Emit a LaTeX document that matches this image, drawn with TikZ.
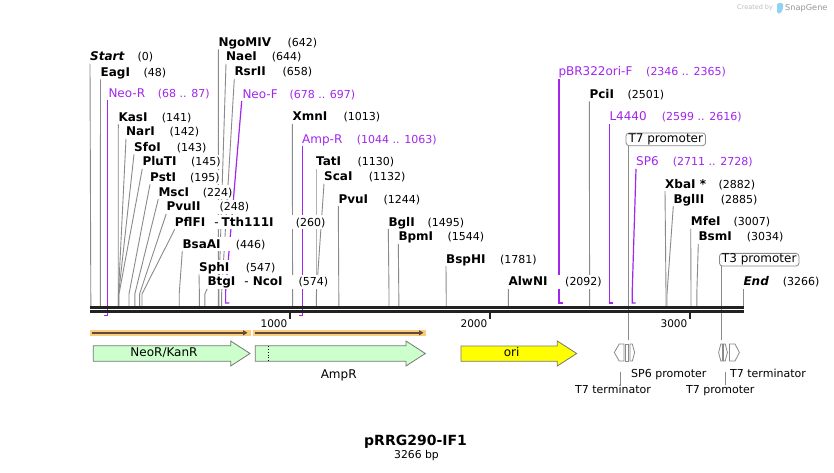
\documentclass[tikz,border=0pt]{standalone}
\usepackage{fontspec}
\setmainfont{DejaVu Sans}
\usetikzlibrary{arrows.meta}
\definecolor{sitegray}{HTML}{8A8A8A}
\definecolor{primpurple}{HTML}{A126EE}
\definecolor{bbone}{HTML}{222222}
\definecolor{featgreen}{HTML}{CCFFCC}
\definecolor{featline}{HTML}{777777}
\definecolor{orifill}{HTML}{FFFF00}
\definecolor{orglow}{HTML}{FBCB7E}
\definecolor{orcore}{HTML}{5E4B35}
\definecolor{logogray}{HTML}{BDBDBD}
\definecolor{logoblue}{HTML}{8ED3F5}
\pgfdeclarelayer{bgfill}
\pgfdeclarelayer{lines}
\pgfdeclarelayer{whites}
\pgfsetlayers{bgfill,lines,whites,main}
\newcommand\enzfont{\fontsize{12}{14}\selectfont\bfseries}
\newcommand\numfont{\fontsize{11}{13}\selectfont}
\newcommand\primfont{\fontsize{12}{14}\selectfont}
\newcommand\featfont{\fontsize{11}{13}\selectfont}
\tikzset{
  lab/.style={anchor=west, inner xsep=0pt, inner ysep=0.8pt, text height=10pt, text depth=2pt},
  siteln/.style={sitegray, line width=0.9pt},
  primln/.style={primpurple, line width=1.2pt},
  featarrow/.style={draw=featline, line width=0.8pt, fill=featgreen},
  smallft/.style={draw=sitegray, line width=0.8pt, fill=white},
  featlab/.style={font=\featfont, inner sep=0pt, text height=9pt, text depth=2.5pt},
  boxlab/.style={draw=sitegray, rounded corners=3pt, line width=0.8pt, fill=white, font=\fontsize{12}{14}\selectfont, inner xsep=2.5pt, inner ysep=0.6pt, text height=9pt, text depth=2.5pt},
  glowbar/.style={orglow, line width=6pt},
  corebar/.style={orcore, line width=1.6pt, -{Triangle[length=4.5pt,width=5pt]}},
}
\newcommand\enzsite[8]{%
  \node[lab,font=\enzfont#8] (#1) at (#2,#3) {#4};
  \node[lab,font=\numfont] (#1n) at (#5,#3) {#6};
  \coordinate (#1s) at (#7,306);
  \begin{pgfonlayer}{whites}\fill[white] (#1.south west) rectangle (#1n.north east);\end{pgfonlayer}
  \begin{pgfonlayer}{lines}\draw[siteln] (#1.south west) -- ([yshift=12pt]#1s) -- (#1s);\end{pgfonlayer}
}
\newcommand\primlab[6]{%
  \node[lab,font=\primfont,text=primpurple] (#1) at (#2,#3) {#4};
  \node[lab,font=\numfont,text=primpurple] (#1n) at (#5,#3) {#6};
  \begin{pgfonlayer}{whites}\fill[white] (#1.south west) rectangle (#1n.north east);\end{pgfonlayer}
}
\begin{document}
\begin{tikzpicture}[x=1pt,y=-1pt]
\begin{pgfonlayer}{bgfill}
\fill[white] (0,0) rectangle (834,472);
\end{pgfonlayer}
\useasboundingbox (0,0) rectangle (834,472);

% ---- logo
\node[anchor=west, inner sep=0pt, text=logogray, font=\fontsize{6.5}{8}\selectfont] (cre) at (737,8) {Created by};
\fill[logoblue, rounded corners=1.5pt] (777,3) -- (783,3) -- (783,9) -- (780.5,13.5) -- (777,13.5) -- cycle;
\node[anchor=west, inner sep=0pt, text=logogray!80!black, font=\fontsize{8.2}{10}\selectfont] (sg) at (785,8) {SnapGene};

% ---- restriction sites
\enzsite{Start}{90}{56.7}{Start}{137.3}{(0)}{90.8}{\itshape}
\enzsite{EagI}{100.5}{72.3}{EagI}{143.3}{(48)}{100.3}{}
\enzsite{KasI}{118.3}{117.3}{KasI}{161.7}{(141)}{118.2}{}
\enzsite{NarI}{126}{131.7}{NarI}{169.3}{(142)}{118.4}{}
\enzsite{SfoI}{134}{147.3}{SfoI}{176.7}{(143)}{118.6}{}
\enzsite{PluTI}{142.3}{161.7}{PluTI}{191}{(145)}{119}{}
\enzsite{PstI}{150}{177.3}{PstI}{190}{(195)}{129}{}
\enzsite{MscI}{158.3}{192}{MscI}{202.7}{(224)}{134.8}{}
\enzsite{PvuII}{166.3}{206.7}{PvuII}{219.3}{(248)}{139.6}{}
\enzsite{PflFI}{174.7}{222.3}{PflFI\hspace{9pt}{\mdseries -}\hspace{3pt}Tth111I}{295.7}{(260)}{142}{}
\enzsite{BsaAI}{182.3}{244}{BsaAI}{235.7}{(446)}{179.2}{}
\enzsite{SphI}{199}{267.3}{SphI}{245.7}{(547)}{199.4}{}
\enzsite{BtgI}{207.3}{281.7}{BtgI\hspace{9pt}{\mdseries -}\hspace{4pt}NcoI}{298.3}{(574)}{204.8}{}
\enzsite{NgoMIV}{218.3}{42.3}{NgoMIV}{287.3}{(642)}{218.4}{}
\enzsite{NaeI}{226}{56.7}{NaeI}{271.7}{(644)}{218.8}{}
\enzsite{RsrII}{234.3}{71.7}{RsrII}{282.3}{(658)}{221.6}{}
\enzsite{XmnI}{292.3}{116.7}{XmnI}{343.3}{(1013)}{292.6}{}
\enzsite{TatI}{316}{161.7}{TatI}{357.3}{(1130)}{316}{}
\enzsite{ScaI}{324}{176.7}{ScaI}{368.7}{(1132)}{316.4}{}
\enzsite{PvuI}{338.3}{199}{PvuI}{383.3}{(1244)}{338.8}{}
\enzsite{BglI}{388.3}{222}{BglI}{427.3}{(1495)}{389}{}
\enzsite{BpmI}{398.3}{236.7}{BpmI}{447.3}{(1544)}{398.8}{}
\enzsite{BspHI}{446}{259}{BspHI}{500}{(1781)}{446.2}{}
\enzsite{AlwNI}{508.3}{281.7}{AlwNI}{565}{(2092)}{508.4}{}
\enzsite{PciI}{589.3}{94.3}{PciI}{627.3}{(2501)}{589.6}{}
\enzsite{XbaI}{665}{184}{XbaI *}{718.3}{(2882)}{666}{}
\enzsite{BglII}{673.3}{199}{BglII}{720.7}{(2885)}{667}{}
\enzsite{MfeI}{690.7}{221.7}{MfeI}{733.3}{(3007)}{691}{}
\enzsite{BsmI}{698.3}{236.7}{BsmI}{746.7}{(3034)}{696.8}{}
\enzsite{End}{743.3}{281.7}{End}{782.7}{(3266)}{743.3}{\itshape}

% ---- primers
\primlab{nR}{108.3}{93.3}{Neo-R}{157.7}{(68 .. 87)}
\primlab{nF}{242.3}{94}{Neo-F}{289.3}{(678 .. 697)}
\primlab{aR}{302}{139}{Amp-R}{356.7}{(1044 .. 1063)}
\primlab{pB}{558.3}{71.7}{pBR322ori-F}{646}{(2346 .. 2365)}
\primlab{L4}{609.3}{116.7}{L4440}{661.7}{(2599 .. 2616)}
\primlab{SP}{636}{161.7}{SP6}{672.7}{(2711 .. 2728)}
\coordinate (nRs) at (107.4,315.7);
\coordinate (nFs) at (225.6,303);
\coordinate (aRs) at (302.6,315.7);
\coordinate (pBs) at (559,303);
\coordinate (L4s) at (609.8,303);
\coordinate (SPs) at (632.2,303);
\begin{pgfonlayer}{lines}
\draw[primln] (nRs |- nR.south) -- (nRs) -- ++(-3.8,0);
\draw[primln] ([xshift=-0.6pt]nF.south west) -- ([yshift=11pt]nFs) -- (nFs) -- ++(3.8,0);
\draw[primln] (aRs |- aR.south) -- (aRs) -- ++(-3.8,0);
\draw[primln] (pBs |- pB.south) -- (pBs) -- ++(3.8,0);
\draw[primln] (L4s |- L4.south) -- (L4s) -- ++(3.4,0);
\draw[primln] (SP.south west) -- ([yshift=11pt]SPs) -- (SPs) -- ++(3.4,0);
\end{pgfonlayer}

% ---- boxed feature labels above
\node[boxlab] (t7top) at (665.8,139.3) {T7 promoter};
\node[boxlab] (t3top) at (759.2,259.7) {T3 promoter};
\coordinate (t7f) at (628.3,340);
\coordinate (t3f) at (721.3,340);
\begin{pgfonlayer}{lines}
\draw[siteln] (t7f |- t7top.south) -- (t7f);
\draw[siteln] (t3f |- t3top.south) -- (t3f);
\end{pgfonlayer}

% ---- backbone
\coordinate (bbL) at (90,307.5);
\coordinate (bbR) at (743.5,307.5);
\draw[bbone, line width=3pt] (bbL) -- (bbR);
\draw[bbone, line width=3pt] ([yshift=-4pt]bbL) -- ([yshift=-4pt]bbR);
\foreach \t/\lab in {290/1000, 490/2000, 690/3000}{
  \draw[bbone, line width=2pt] (\t,312.5) -- (\t,319);
  \node[anchor=east, inner sep=0pt, font=\fontsize{10.5}{12}\selectfont, text height=8pt, text depth=0pt] at (\t-2.5,323) {\lab};
}

% ---- orange bars
\draw[glowbar] (90,332.8) -- (250.7,332.8);
\draw[corebar] (91.5,332.8) -- (247.5,332.8);
\draw[glowbar] (253,332.8) -- (426,332.8);
\draw[corebar] (254.5,332.8) -- (423.5,332.8);

% ---- feature arrows
\draw[featarrow] (93.3,345.7) -- (230.7,345.7) -- (230.7,341) -- (250,353.5) -- (230.7,366) -- (230.7,361.3) -- (93.3,361.3) -- cycle;
\node[featlab, font=\fontsize{12}{14}\selectfont] (neo) at (164,353.5) {NeoR/KanR};
\draw[featarrow] (255.3,345.7) -- (406,345.7) -- (406,341) -- (425.3,353.5) -- (406,366) -- (406,361.3) -- (255.3,361.3) -- cycle;
\draw[black, line width=0.8pt, dotted] (268.3,346.2) -- (268.3,360.8);
\node[featlab, font=\fontsize{12}{14}\selectfont] (amp) at (338.7,375.5) {AmpR};
\draw[draw=featline, line width=0.8pt, fill=orifill] (461,346) -- (557.3,346) -- (557.3,341) -- (576.7,353.5) -- (557.3,366) -- (557.3,361.3) -- (461,361.3) -- cycle;
\node[featlab, font=\fontsize{12}{14}\selectfont] (ori) at (511.7,353.5) {ori};

% ---- small features on the right
\draw[smallft] (624,344) -- (619.2,344) -- (614.3,352.5) -- (619.2,361) -- (624,361) -- cycle;
\draw[smallft] (625.8,344) rectangle (628.8,361);
\draw[smallft] (630,344) -- (632.3,344) -- (634.6,352.5) -- (632.3,361) -- (630,361) -- cycle;
\draw[smallft] (722.6,344) -- (720.8,344) -- (718.6,352.5) -- (720.8,361) -- (722.6,361) -- cycle;
\draw[smallft] (723.4,344) -- (725.2,344) -- (727.4,352.5) -- (725.2,361) -- (723.4,361) -- cycle;
\draw[smallft] (729.4,344) -- (735,344) -- (739.4,352.5) -- (735,361) -- (729.4,361) -- cycle;

% ---- feature labels below
\node[featlab, anchor=west] (sp6) at (631,374.3) {SP6 promoter};
\node[featlab, anchor=west] (t7tR) at (730,374.3) {T7 terminator};
\node[featlab, anchor=west] (t7tL) at (575,390.7) {T7 terminator};
\node[featlab, anchor=west] (t7pB) at (686,390.7) {T7 promoter};
\coordinate (t7tLf) at (620,371.7);
\coordinate (t7pBf) at (725.7,371.7);
\draw[siteln] (t7tLf) -- (t7tLf |- t7tL.north);
\draw[siteln] (t7pBf) -- (t7pBf |- t7pB.north);

% ---- title
\node[inner sep=0pt, font=\fontsize{14}{16}\selectfont\bfseries] (title) at (415.5,441.5) {pRRG290-IF1};
\node[inner sep=0pt, font=\fontsize{10.8}{12}\selectfont] (size) at (416.5,455.3) {3266 bp};
\end{tikzpicture}
\end{document}
